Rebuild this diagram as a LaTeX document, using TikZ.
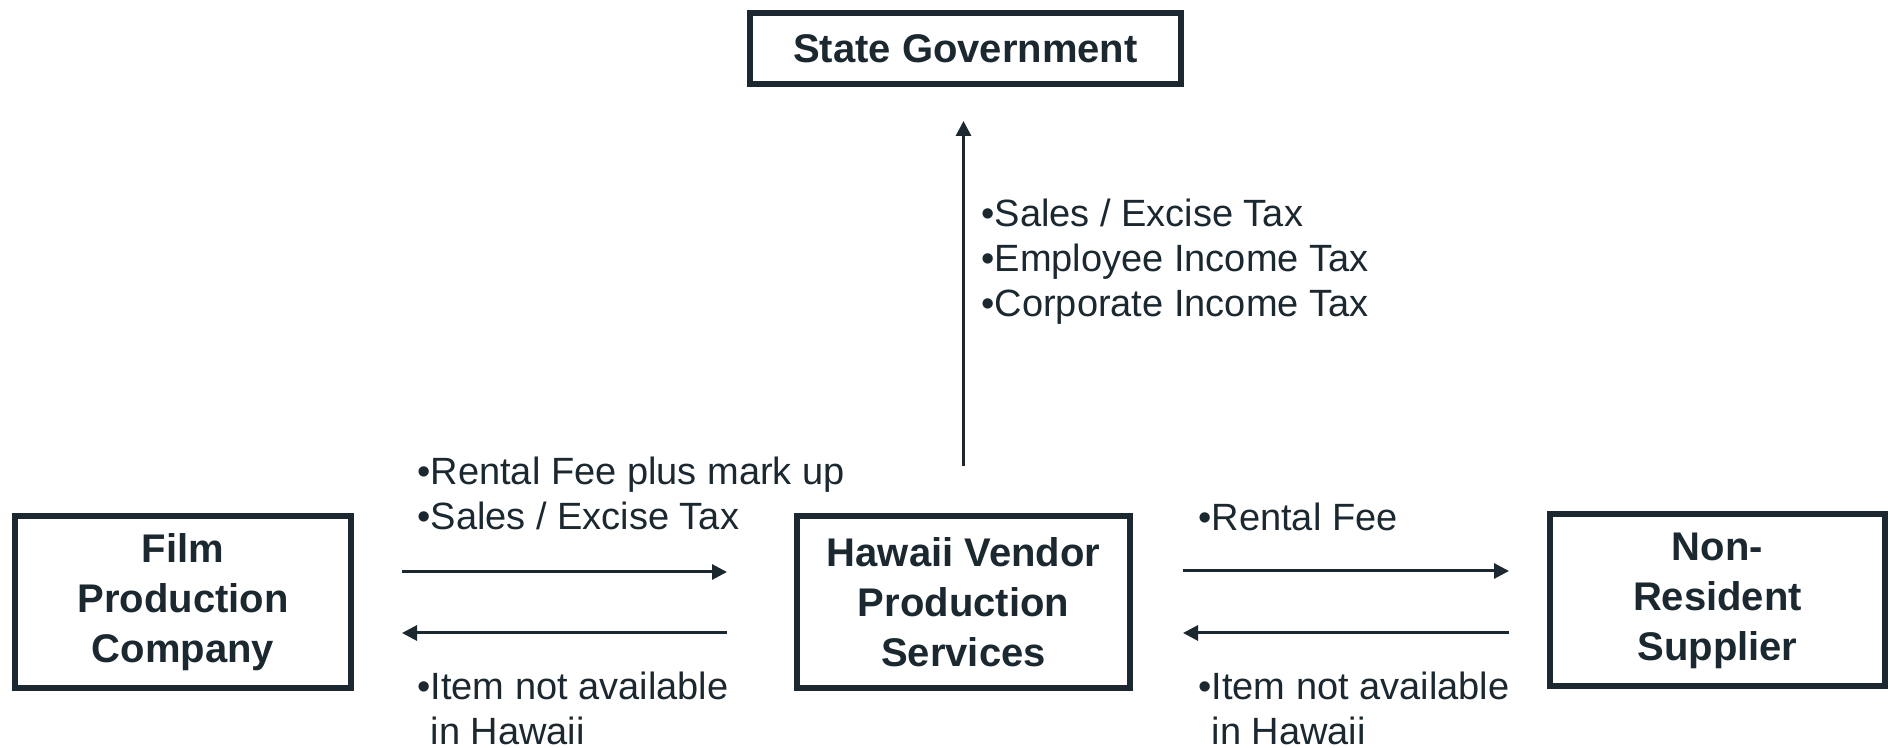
\documentclass[tikz,border=0pt]{standalone}
\usepackage{fontspec}
\setmainfont{Liberation Sans}
\usetikzlibrary{arrows.meta}
\definecolor{ink}{RGB}{28,40,48}

\begin{document}
\begin{tikzpicture}[
    x=0.5pt, y=0.5pt,
    party/.style={draw=ink, line width=3pt, text=ink, align=center,
      font=\fontsize{20}{25}\selectfont\bfseries,
      minimum width=168pt, minimum height=86pt, inner sep=0pt},
    flow/.style={draw=ink, line width=1.5pt, -{Triangle[length=7.5pt, width=7.5pt]}},
    note/.style={text=ink, align=left, anchor=north west, inner sep=0pt,
      font=\fontsize{19}{22.5}\selectfont},
  ]

\useasboundingbox (0,0) rectangle (1894,748);

% ============================ parties =====================================
\node[party] (film) at (183,146) {Film\\Production\\Company};
\node[party, minimum width=166.5pt] (vendor) at (963.5,146)
      {Hawaii Vendor\\Production\\Services};
\node[party, minimum width=167.5pt] (supplier) at (1717.5,147.5)
      {Non-\\Resident\\Supplier};
\node[party, minimum width=215.5pt, minimum height=35.5pt] (state) at (965.5,699.5)
      {State Government};

% ============================ flows =======================================
% ---- film company <-> vendor ---------------------------------------------
\draw[flow, shorten <=24pt, shorten >=33.5pt]
  ([yshift=15pt]film.east) -- ([yshift=15pt]vendor.west);
\draw[flow, shorten <=33.5pt, shorten >=24pt]
  ([yshift=-15.5pt]vendor.west) -- ([yshift=-15.5pt]film.east);

% ---- vendor <-> non-resident supplier ------------------------------------
\draw[flow, shorten <=25pt, shorten >=19pt]
  ([yshift=15.5pt]vendor.east) -- ([yshift=15.5pt]vendor.east -| supplier.west);
\draw[flow, shorten <=19pt, shorten >=25pt]
  ([yshift=-15.5pt]vendor.east -| supplier.west) -- ([yshift=-15.5pt]vendor.east);

% ---- vendor -> state ------------------------------------------------------
\draw[flow, shorten <=23.5pt, shorten >=17pt]
  (vendor.north) -- (vendor.north |- state.south);

% ============================ labels ======================================
\node[note] (feeup) at (417,291) {•Rental Fee plus mark up\\•Sales / Excise Tax};
\node[note] (itemL) at (417,76) {•Item not available\\\phantom{•}in Hawaii};
\node[note] (fee) at (1198,245) {•Rental Fee};
\node[note] (itemR) at (1198,76) {•Item not available\\\phantom{•}in Hawaii};
\node[note] (taxes) at (981,549)
      {•Sales / Excise Tax\\•Employee Income Tax\\•Corporate Income Tax};

\end{tikzpicture}
\end{document}
